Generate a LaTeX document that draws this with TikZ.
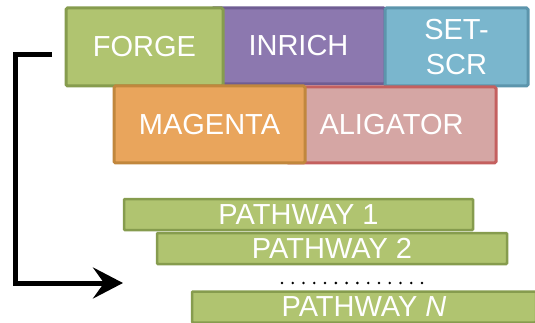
\documentclass[tikz,border=0pt]{standalone}
\usepackage{fontspec}
\setmainfont{Liberation Sans}
\usetikzlibrary{arrows.meta}
\definecolor{gfill}{RGB}{176,196,112}
\definecolor{gdraw}{RGB}{134,156,78}
\definecolor{pfill}{RGB}{140,120,175}
\definecolor{pdraw}{RGB}{111,93,147}
\definecolor{bfill}{RGB}{122,182,205}
\definecolor{bdraw}{RGB}{92,149,172}
\definecolor{ofill}{RGB}{233,165,92}
\definecolor{odraw}{RGB}{193,135,61}
\definecolor{rfill}{RGB}{213,166,164}
\definecolor{rdraw}{RGB}{196,96,95}
\tikzset{
  tool/.style={draw, line width=3pt, rounded corners=1.5pt, inner sep=0pt,
    text=white, font=\fontsize{29}{35}\selectfont, align=center},
  pathbox/.style={draw=gdraw, fill=gfill, line width=2.5pt, rounded corners=1pt,
    inner sep=0pt, text=white, font=\fontsize{29}{35}\selectfont},
  flow/.style={line width=5pt, -{Stealth[length=30pt,width=31pt,inset=11pt]}}
}
\begin{document}
\begin{tikzpicture}[x=1pt,y=-1pt]
\useasboundingbox (0,0) rectangle (535,323);
\begin{scope}
\clip (0,0) rectangle (535,323);
% top row
\node[tool, draw=pdraw, fill=pfill, minimum width=173pt, minimum height=76pt] (inrich) at (298.5,46) {INRICH};
\node[tool, draw=gdraw, fill=gfill, minimum width=157pt, minimum height=78pt] (forge) at (144.5,47) {FORGE};
\node[tool, draw=bdraw, fill=bfill, minimum width=143pt, minimum height=78pt] (setscr) at (456.5,47) {SET-\\SCR};
% second row
\node[tool, draw=rdraw, fill=rfill, minimum width=209pt, minimum height=76pt] (aligator) at (391.5,125) {ALIGATOR};
\node[tool, draw=odraw, fill=ofill, minimum width=191pt, minimum height=77pt] (magenta) at (209.5,124.5) {MAGENTA};
% pathways
\node[pathbox, minimum width=349pt, minimum height=31pt] (p1) at (298.5,214.5) {PATHWAY 1};
\node[pathbox, minimum width=350pt, minimum height=31pt] (p2) at (332,248.5) {PATHWAY 2};
\node[pathbox, minimum width=344pt, minimum height=31pt] (pn) at (364,307) {PATHWAY \textit{N}};
% dots
\foreach \i in {0,...,13} \fill (282+\i*10.77,283) circle (1.4pt);
\end{scope}
% arrow
\coordinate (start) at (52,55);
\coordinate (corner) at (15,55);
\coordinate (end) at (123,283);
\draw[flow] (start) -- (corner) |- (end);
\end{tikzpicture}
\end{document}
